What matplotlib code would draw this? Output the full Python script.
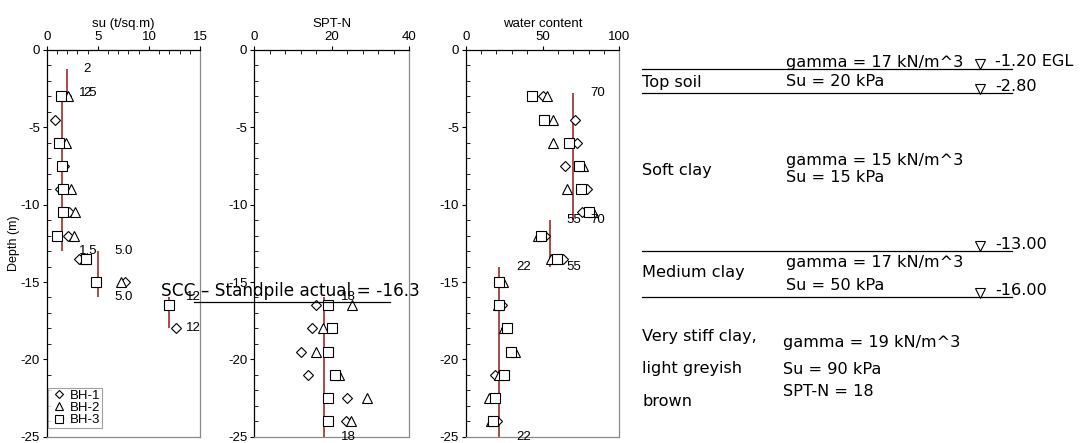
import matplotlib
matplotlib.use("Agg")
import matplotlib.pyplot as plt
from matplotlib.ticker import MultipleLocator

plt.rcParams["axes.unicode_minus"] = False

W, H = 1081, 443
RED = "#a83a3a"
SANS = "Liberation Sans"
NOTE = "DejaVu Sans"

depths = [-3.0, -4.5, -6.0, -7.5, -9.0, -10.5, -12.0, -13.5, -15.0,
          -16.5, -18.0, -19.5, -21.0, -22.5, -24.0]
boreholes = ["BH-1", "BH-2", "BH-3"]

# undrained strength, t/sq.m
su_bh1 = [1.9, 0.8, None, 1.7, 1.3, 2.2, 2.05, 3.16, 7.66, None, 12.7, None, None, None, None]
su_bh2 = [2.1, None, 1.9, None, 2.38, 2.77, 2.67, 3.7, 7.24, None, None, None, None, None, None]
su_bh3 = [1.42, None, 1.24, 1.46, 1.63, 1.63, 0.98, 3.85, 4.79, 12.0, None, None, None, None, None]

# SPT blow counts
spt_bh1 = [None] * 9 + [15.8, 15.0, 12.0, 13.9, 23.8, 23.6]
spt_bh2 = [None] * 9 + [25.1, 17.8, 15.9, 21.9, 29.0, 25.0]
spt_bh3 = [None] * 9 + [19.1, 20.1, 18.9, 20.8, 18.9, 18.9]

# natural water content, %
wc_bh1 = [50.1, 71.2, 72.7, 64.6, 78.8, 75.9, 51.6, 63.1, 22.0, 23.4, 26.0, 30.0, 19.1, 18.0, 20.2]
wc_bh2 = [52.7, 57.0, 57.0, 76.6, 66.2, 83.1, 46.9, 55.5, 24.5, 21.0, 25.0, 32.1, 21.7, 15.2, 16.5]
wc_bh3 = [43.4, 51.2, 67.3, 74.0, 75.1, 80.5, 48.8, 59.2, 21.7, 21.5, 27.1, 29.3, 25.1, 19.1, 18.0]

# design lines: (value, top, bottom, label)
su_design = [(2.0, -1.2, -2.8, "2"), (1.5, -2.8, -13.0, "1.5"),
             (5.0, -13.0, -16.0, "5.0"), (12.0, -16.0, -18.0, "12")]
spt_design = [(18.0, -16.0, -25.0, "18")]
wc_design = [(70.0, -2.8, -11.0, "70"), (55.0, -11.0, -14.0, "55"),
             (22.0, -14.0, -25.0, "22")]

standpile_depth = -16.3

# soil layers
layer_tops = [-1.2, -2.8, -13.0, -16.0]
layer_labels = ["-1.20 EGL", "-2.80", "-13.00", "-16.00"]

markers = [dict(marker="D", ms=5.0), dict(marker="^", ms=7.4), dict(marker="s", ms=7.0)]


def fx(px):
    return px / W


def fy(py):
    return 1 - py / H


def style_axis(ax, xmax, xmajor, xminor, title):
    ax.set_xlim(0, xmax)
    ax.set_ylim(-25, 0)
    ax.xaxis.tick_top()
    ax.xaxis.set_label_position("top")
    ax.set_xlabel(title, fontsize=9.5, family=SANS, labelpad=3)
    ax.xaxis.set_major_locator(MultipleLocator(xmajor))
    ax.xaxis.set_minor_locator(MultipleLocator(xminor))
    ax.yaxis.set_major_locator(MultipleLocator(5))
    ax.yaxis.set_minor_locator(MultipleLocator(1))
    ax.tick_params(which="major", direction="out", length=3, width=0.8,
                   labelsize=9.5, pad=2, top=True, bottom=False, right=False)
    ax.tick_params(which="minor", direction="in", length=3, width=0.6,
                   top=True, bottom=False, right=False)
    for lab in ax.get_xticklabels() + ax.get_yticklabels():
        lab.set_family(SANS)
    ax.spines["left"].set_color("black")
    ax.spines["top"].set_color("black")
    ax.spines["right"].set_color("#8a8a8a")
    ax.spines["bottom"].set_color("#8a8a8a")
    for s in ax.spines.values():
        s.set_linewidth(0.9)


def draw_points(ax, series):
    for vals, name, mk in zip(series, boreholes, markers):
        xs = [v for v in vals if v is not None]
        ys = [d for v, d in zip(vals, depths) if v is not None]
        ax.plot(xs, ys, linestyle="none", marker=mk["marker"], ms=mk["ms"],
                mfc="white", mec="black", mew=0.8, label=name, zorder=3,
                clip_on=False)


def draw_design(ax, segments):
    for value, top, bottom, text in segments:
        ax.plot([value, value], [top, bottom], color=RED, lw=1.3, zorder=2,
                solid_capstyle="butt")
        for d in (top, bottom):
            ax.annotate(text, (value, d), xytext=(12, 0), textcoords="offset points",
                        va="center", ha="left", fontsize=9.5, family=SANS,
                        annotation_clip=False, zorder=4)


fig = plt.figure(figsize=(W / 100, H / 100), dpi=100)

ax_top, ax_bot = 50, 436.7
axes_px = [(46.7, 200.0), (254.3, 409.3), (465.7, 619.3)]
axs = [fig.add_axes([fx(l), fy(ax_bot), fx(r - l), (ax_bot - ax_top) / H])
       for l, r in axes_px]
ax_su, ax_spt, ax_wc = axs

style_axis(ax_su, 15, 5, 1, "su (t/sq.m)")
style_axis(ax_spt, 40, 20, 4, "SPT-N")
style_axis(ax_wc, 100, 50, 10, "water content")
ax_su.set_ylabel("Depth (m)", fontsize=9, family=SANS, labelpad=0)

draw_design(ax_su, su_design)
draw_points(ax_su, [su_bh1, su_bh2, su_bh3])
draw_design(ax_spt, spt_design)
draw_points(ax_spt, [spt_bh1, spt_bh2, spt_bh3])
draw_design(ax_wc, wc_design)
draw_points(ax_wc, [wc_bh1, wc_bh2, wc_bh3])

leg = ax_su.legend(loc="lower left", bbox_to_anchor=(0.01, 0.022), frameon=True,
                   fancybox=False, edgecolor="#8a8a8a", handlelength=1.4,
                   handletextpad=0.1, borderpad=0.15, labelspacing=0.0,
                   markerscale=0.8, prop={"family": SANS, "size": 9.5},
                   borderaxespad=0)
leg.get_frame().set_linewidth(0.8)
leg.set_zorder(5)

# standpile level across the SPT panel
ax_spt.plot([-15.6, 35.0], [standpile_depth, standpile_depth], color="black",
            lw=0.9, clip_on=False, zorder=6)
ax_spt.text(9.4, standpile_depth + 0.15, f"SCC \u2013 Standpile actual = {standpile_depth}",
            ha="center", va="bottom", fontsize=12.2, family=NOTE, clip_on=False,
            zorder=6)

# soil profile on the right
ax_soil = fig.add_axes([fx(642), fy(ax_bot), fx(W - 642), (ax_bot - ax_top) / H])
ax_soil.set_xlim(642, W)
ax_soil.set_ylim(-25, 0)
ax_soil.axis("off")
for d, lab in zip(layer_tops, layer_labels):
    ax_soil.plot([642, 1012], [d, d], color="black", lw=0.9)
    ax_soil.plot([980], [d + 0.3], marker="v", ms=7, mfc="white", mec="black",
                 mew=0.8, clip_on=False)
    ax_soil.text(995, d + 0.45, lab, ha="left", va="center", fontsize=11.6,
                 family=NOTE)

notes = [
    (786, 63, "gamma = 17 kN/m^3"),
    (642, 82, "Top soil"),
    (786, 82, "Su = 20 kPa"),
    (786, 160, "gamma = 15 kN/m^3"),
    (642, 170, "Soft clay"),
    (786, 178, "Su = 15 kPa"),
    (642, 273, "Medium clay"),
    (786, 263, "gamma = 17 kN/m^3"),
    (786, 285, "Su = 50 kPa"),
    (642, 336, "Very stiff clay,"),
    (783, 343, "gamma = 19 kN/m^3"),
    (642, 369, "light greyish"),
    (783, 369, "Su = 90 kPa"),
    (642, 402, "brown"),
    (783, 392, "SPT-N = 18"),
]
for x, y, t in notes:
    fig.text(fx(x), fy(y), t, ha="left", va="center", fontsize=11.6, family=NOTE)

fig.savefig("out.png", dpi=100)
